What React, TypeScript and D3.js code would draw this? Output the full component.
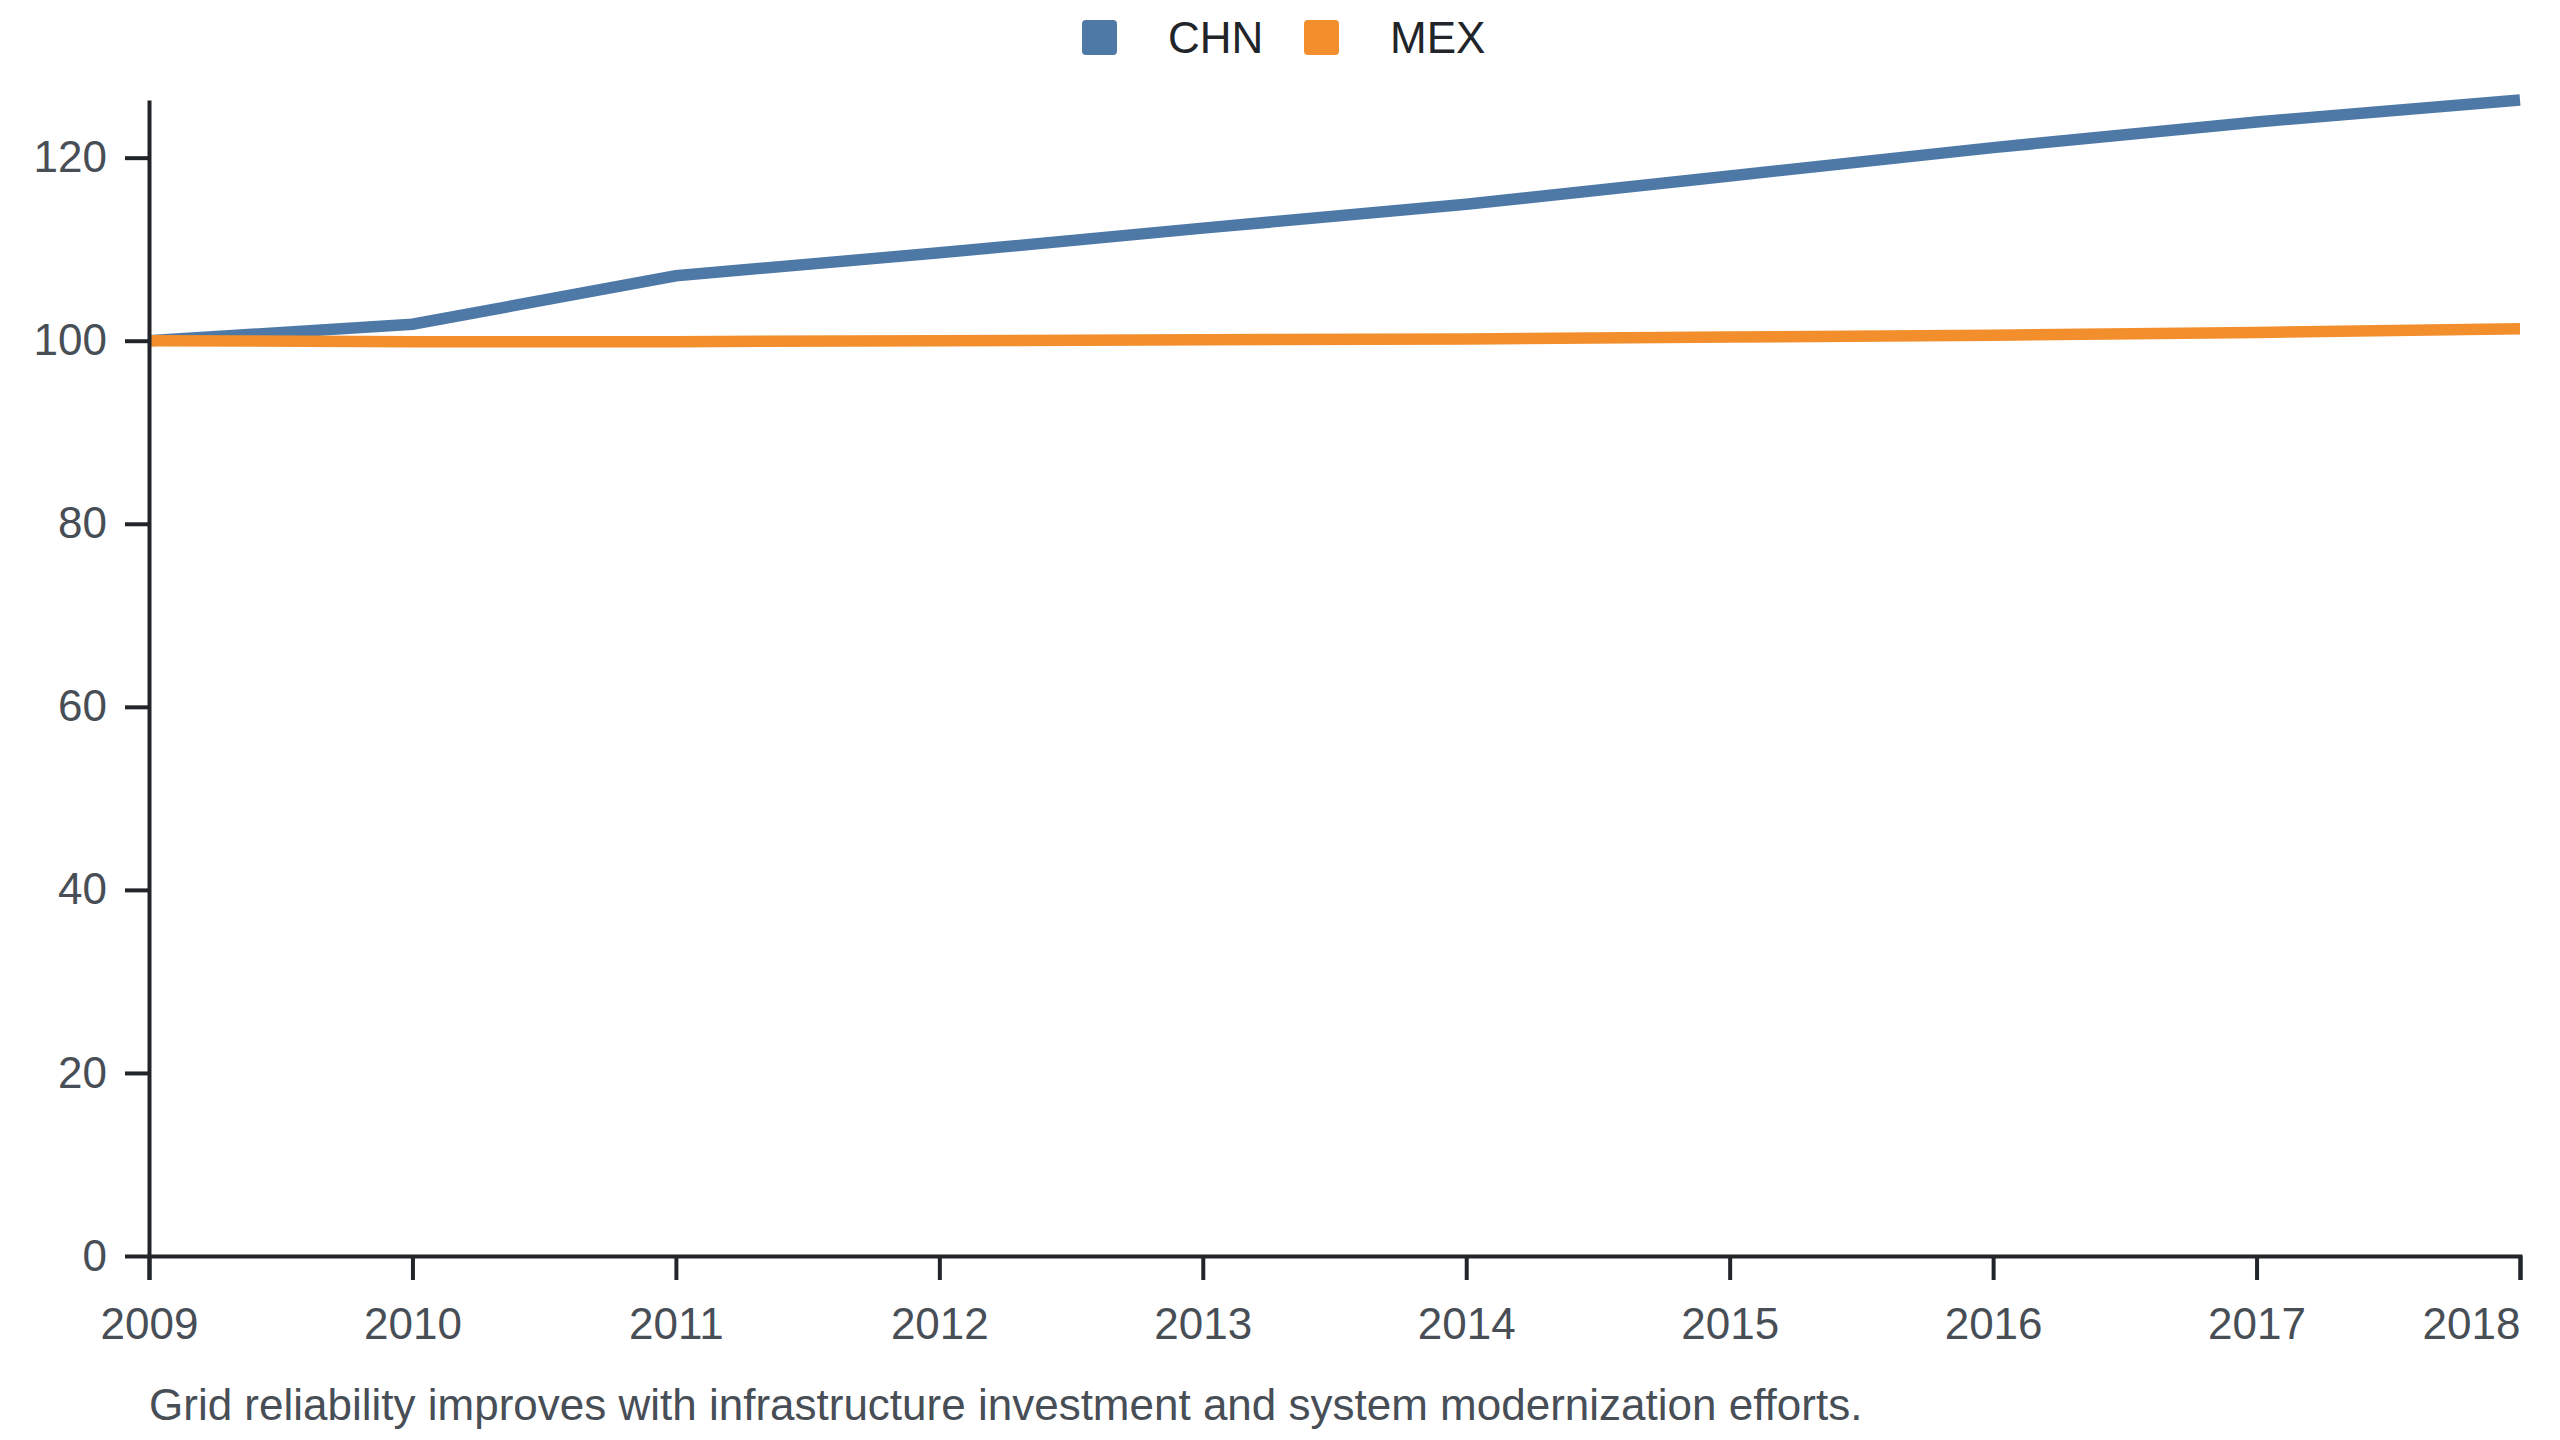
import { useEffect, useRef } from "react";
import * as d3 from "d3";

const years = [2009, 2010, 2011, 2012, 2013, 2014, 2015, 2016, 2017, 2018];
const chnValues = [100, 101.8, 107.1, 109.6, 112.3, 114.9, 118.0, 121.1, 123.9, 126.3];
const mexValues = [100, 99.9, 99.9, 100.0, 100.1, 100.2, 100.4, 100.6, 100.9, 101.3];
const yTicks = [0, 20, 40, 60, 80, 100, 120];

const seriesNames = ["CHN", "MEX"];
const seriesColors = ["#4e79a7", "#f28e2b"];
const caption =
  "Grid reliability improves with infrastructure investment and system modernization efforts.";

interface Point {
  year: number;
  value: number;
}

export default function App() {
  const svgRef = useRef<SVGSVGElement>(null);

  useEffect(() => {
    document.body.style.margin = "0";
    if (!svgRef.current) return;

    const svg = d3.select(svgRef.current);
    svg.selectAll("*").remove();

    const W = 2560;
    const H = 1440;
    const margin = { top: 100, right: 40, bottom: 184, left: 149 };
    const width = 2520 - margin.left;
    const height = H - margin.top - margin.bottom;
    const font = "'Liberation Sans', Arial, Helvetica, sans-serif";

    svg.attr("width", W).attr("height", H);
    svg.append("rect").attr("width", W).attr("height", H).attr("fill", "#ffffff");

    const series = [chnValues, mexValues].map((vals) =>
      years.map((y, i) => ({ year: y, value: vals[i] }))
    );

    const x = d3
      .scaleLinear()
      .domain(d3.extent(years) as [number, number])
      .range([0, width]);

    const yMax = d3.max(series.flat(), (d) => d.value) as number;
    const y = d3.scaleLinear().domain([0, yMax]).range([height, 0]);

    const g = svg
      .append("g")
      .attr("transform", `translate(${margin.left},${margin.top})`);

    // Lines
    const line = d3
      .line<Point>()
      .x((d) => x(d.year))
      .y((d) => y(d.value));

    series.forEach((s, i) => {
      g.append("path")
        .datum(s)
        .attr("fill", "none")
        .attr("stroke", seriesColors[i])
        .attr("stroke-width", 11.5)
        .attr("d", line);
    });

    // X axis
    const xAxis = g
      .append("g")
      .attr("transform", `translate(0,${height})`)
      .call(
        d3
          .axisBottom(x)
          .tickValues(years)
          .tickFormat((d) => String(d))
          .tickSize(24)
          .tickSizeOuter(24)
          .tickPadding(28)
      );
    xAxis.select(".domain").attr("stroke", "#212429").attr("stroke-width", 4);
    xAxis.selectAll(".tick line").attr("stroke", "#212429").attr("stroke-width", 4);
    xAxis
      .selectAll<SVGTextElement, number>("text")
      .attr("fill", "#484e56")
      .style("font-family", font)
      .style("font-size", "44px")
      // keep the last year inside the frame
      .attr("text-anchor", (d) => (d === years[years.length - 1] ? "end" : "middle"));

    // Y axis
    const yAxis = g.append("g").call(
      d3
        .axisLeft(y)
        .tickValues(yTicks)
        .tickSize(24)
        .tickSizeOuter(0)
        .tickPadding(18)
    );
    yAxis.select(".domain").attr("stroke", "#212429").attr("stroke-width", 4);
    yAxis.selectAll(".tick line").attr("stroke", "#212429").attr("stroke-width", 4);
    yAxis
      .selectAll("text")
      .attr("fill", "#484e56")
      .style("font-family", font)
      .style("font-size", "44px");

    // Legend
    const legendX = [1082, 1304];
    seriesNames.forEach((name, i) => {
      const lg = svg.append("g").attr("transform", `translate(${legendX[i]},20)`);
      lg.append("rect")
        .attr("width", 35)
        .attr("height", 35)
        .attr("rx", 4)
        .attr("fill", seriesColors[i]);
      lg.append("text")
        .attr("x", 86)
        .attr("y", 33)
        .style("font-family", font)
        .style("font-size", "44px")
        .attr("fill", "#212429")
        .text(name);
    });

    // Caption
    svg
      .append("text")
      .attr("x", 149)
      .attr("y", 1420)
      .style("font-family", font)
      .style("font-size", "44px")
      .attr("fill", "#484e56")
      .text(caption);
  }, []);

  return <svg ref={svgRef} style={{ display: "block" }} />;
}
